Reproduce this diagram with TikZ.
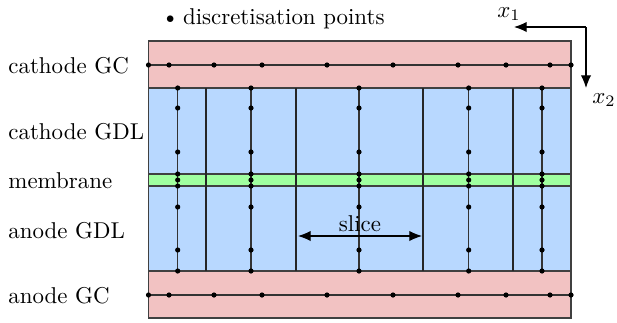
\documentclass[tikz,border=0pt]{standalone}
\usetikzlibrary{arrows.meta}
\definecolor{gcred}{RGB}{242,194,194}
\definecolor{gdlblue}{RGB}{184,216,255}
\definecolor{memgreen}{RGB}{160,255,160}
\begin{document}
\begin{tikzpicture}[
  x=0.01535cm,
  y=-0.01535cm,
  layer/.style={draw=black!75, line width=0.5pt},
  wall/.style={black!85, line width=0.5pt},
  grid/.style={black!80, line width=0.5pt},
  pt/.style={fill=black},
  label/.style={anchor=west, inner sep=0pt},
  axisarrow/.style={-{Latex[length=5.5pt,width=4.5pt]}, line width=0.5pt},
]
  \useasboundingbox (0,0) rectangle (617,322);

  % layers
  \draw[layer, fill=gcred] (148.5,41) rectangle (571,88);
  \draw[layer, fill=gdlblue] (148.5,88) rectangle (571,174);
  \draw[layer, fill=memgreen] (148.5,174) rectangle (571,186);
  \draw[layer, fill=gdlblue] (148.5,186) rectangle (571,271);
  \draw[layer, fill=gcred] (148.5,271) rectangle (571,318);

  % slice walls
  \foreach \x in {206,296,423,513} {
    \draw[wall] (\x,88) -- (\x,271);
  }

  % channel lines
  \draw[grid] (148.5,65) -- (571,65);
  \draw[grid] (148.5,295) -- (571,295);
  \foreach \x in {148.5,169,214,262,327,393,458,506,550,571} {
    \fill[pt] (\x,65) circle (2.6);
    \fill[pt] (\x,295) circle (2.6);
  }

  % through-plane lines
  \foreach \x in {177.7,251,359,468.7,542} {
    \draw[grid] (\x,88) -- (\x,271);
    \foreach \y in {88,108,152,174,180,186,207,250,271}
      \fill[pt] (\x,\y) circle (2.6);
  }

  % slice
  \coordinate (sliceL) at (298,236);
  \coordinate (sliceR) at (422,236);
  \draw[axisarrow, {Latex[length=5.5pt,width=4.5pt]}-{Latex[length=5.5pt,width=4.5pt]}] (sliceL) -- node[above, inner sep=1.5pt] (slicelabel) {slice} (sliceR);

  % axes
  \coordinate (origin) at (586,27);
  \coordinate (xone) at (514,27);
  \coordinate (xtwo) at (586,88);
  \draw[axisarrow] (origin) -- (xone);
  \draw[axisarrow] (origin) -- (xtwo);
  \node (xonelabel) at (509,14) {$x_1$};
  \node (xtwolabel) at (604,100) {$x_2$};

  % legend
  \node[label] (legend) at (161,19) {\textbullet\,discretisation points};

  % layer names
  \node[label] (cathodeGC) at (8,66) {cathode GC};
  \node[label] (cathodeGDL) at (8,132) {cathode GDL};
  \node[label] (membrane) at (8,181) {membrane};
  \node[label] (anodeGDL) at (8,231) {anode GDL};
  \node[label] (anodeGC) at (8,296) {anode GC};
\end{tikzpicture}
\end{document}
